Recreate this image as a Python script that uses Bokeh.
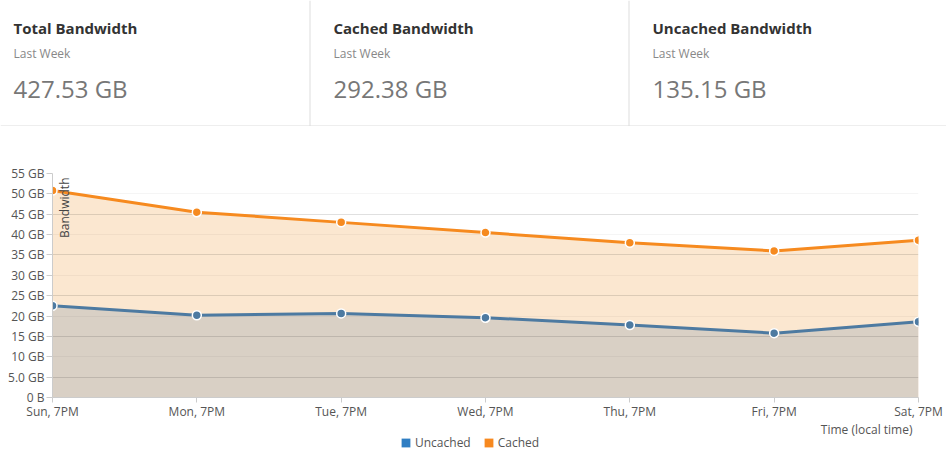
import math
from bokeh.plotting import figure
from bokeh.layouts import column
from bokeh.models import (Range1d, FixedTicker, Grid, Label, Legend, LegendItem,
                          ColumnDataSource)
from bokeh.core.properties import value
from bokeh.embed import file_html
from bokeh.resources import INLINE

# ---------------- data ----------------
days = ["Sun, 7PM", "Mon, 7PM", "Tue, 7PM", "Wed, 7PM", "Thu, 7PM", "Fri, 7PM", "Sat, 7PM"]
cached = [50.8, 45.5, 43.0, 40.5, 38.0, 36.0, 38.6]
uncached = [22.5, 20.2, 20.65, 19.6, 17.8, 15.8, 18.6]
y_ticks = [0, 5, 10, 15, 20, 25, 30, 35, 40, 45, 50, 55]
y_tick_labels = ["0 B", "5.0 GB", "10 GB", "15 GB", "20 GB", "25 GB", "30 GB",
                 "35 GB", "40 GB", "45 GB", "50 GB", "55 GB"]
card_titles = ["Total Bandwidth", "Cached Bandwidth", "Uncached Bandwidth"]
card_periods = ["Last Week", "Last Week", "Last Week"]
card_values = ["427.53 GB", "292.38 GB", "135.15 GB"]
series_names = ["Uncached", "Cached"]
series_legend_colors = ["#2f7ec3", "#f7891f"]

FONT = "Open Sans"
W = 946
HH = 126   # header height
CH = 296   # chart height
LH = 32    # legend strip height

# ---------------- header cards ----------------
hdr = figure(width=W, height=HH, x_range=Range1d(0, W), y_range=Range1d(HH, 0),
             output_backend="svg", toolbar_location=None, min_border=0,
             x_axis_location=None, y_axis_location=None)
hdr.frame_align = False
hdr.grid.visible = False
hdr.outline_line_color = None
card_x = [13, 333, 652]
hdr.text(x=card_x, y=[27] * 3, text=card_titles, text_font=value(FONT),
         text_font_style="bold", text_font_size="15px", text_color="#333333",
         text_baseline="middle")
hdr.text(x=card_x, y=[52.5] * 3, text=card_periods, text_font=value(FONT),
         text_font_size="12px", text_color="#888888", text_baseline="middle")
hdr.text(x=card_x, y=[88] * 3, text=card_values, text_font=value(FONT),
         text_font_size="24px", text_color="#777777", text_baseline="middle")
hdr.segment(x0=[309.5, 628.5], y0=[0, 0], x1=[309.5, 628.5], y1=[125.5, 125.5],
            line_color="#dddddd", line_width=1)
hdr.segment(x0=[0], y0=[125.5], x1=[W], y1=[125.5], line_color="#dddddd", line_width=1)

# ---------------- chart ----------------
xs = list(range(len(days)))
src = ColumnDataSource(dict(x=xs, cached=cached, uncached=uncached))

p = figure(width=W, height=CH, x_range=Range1d(xs[0], xs[-1]),
           y_range=Range1d(y_ticks[0], y_ticks[-1]),
           output_backend="svg", toolbar_location=None,
           min_border_left=52, min_border_right=28, min_border_top=47, min_border_bottom=25)
p.frame_align = False
p.outline_line_color = None
p.background_fill_color = "white"

p.varea(x="x", y1=0, y2="cached", source=src, fill_color="#fbe7d0", level="image")
p.varea(x="x", y1=0, y2="uncached", source=src, fill_color="#d9d0c5", level="image")

# grids
p.xgrid.visible = False
p.ygrid.ticker = FixedTicker(ticks=y_ticks[1::2])
p.ygrid.grid_line_color = "black"
p.ygrid.grid_line_alpha = 0.12
p.ygrid.level = "underlay"
g2 = Grid(dimension=1, ticker=FixedTicker(ticks=y_ticks[2::2]), grid_line_color="black",
          grid_line_alpha=0.04, level="underlay")
p.add_layout(g2)

# lines + markers
p.line(x="x", y="cached", source=src, line_color="#f68a1f", line_width=3)
p.line(x="x", y="uncached", source=src, line_color="#4d7aa1", line_width=3)
p.scatter(x="x", y="cached", source=src, size=9, fill_color="#f68a1f",
          line_color="white", line_width=1.5)
p.scatter(x="x", y="uncached", source=src, size=9, fill_color="#4d7aa1",
          line_color="white", line_width=1.5)

# axes
p.yaxis.ticker = FixedTicker(ticks=y_ticks)
p.yaxis.major_label_overrides = dict(zip(y_ticks, y_tick_labels))
p.xaxis.ticker = FixedTicker(ticks=xs)
p.xaxis.major_label_overrides = dict(zip(xs, days))
for ax in (p.xaxis, p.yaxis):
    ax.axis_line_color = "#cccccc"
    ax.major_tick_line_color = "#cccccc"
    ax.minor_tick_line_color = None
    ax.major_tick_in = 0
    ax.major_label_text_font = FONT
    ax.major_label_text_font_size = "12px"
    ax.major_label_text_color = "#555555"
p.yaxis.major_tick_out = 6
p.yaxis.major_label_standoff = 2
p.xaxis.major_tick_out = 5
p.xaxis.major_label_standoff = 0

p.add_layout(Label(x=xs[0], y=y_ticks[-1], x_offset=3, y_offset=-4, text="Bandwidth",
                   angle=math.pi / 2, text_align="right", text_baseline="top",
                   text_font=FONT, text_font_size="12px", text_color="#444444"))

# ---------------- legend strip (axis title + legend) ----------------
lg = figure(width=W, height=LH, x_range=Range1d(0, W), y_range=Range1d(LH, 0),
            output_backend="svg", toolbar_location=None, min_border=0,
            x_axis_location=None, y_axis_location=None)
lg.frame_align = False
lg.grid.visible = False
lg.outline_line_color = None
lg.text(x=[912], y=[7], text=["Time (local time)"], text_font=value(FONT),
        text_font_size="12px", text_color="#555555", text_align="right",
        text_baseline="middle")
nan = float("nan")
items = []
for name, col in zip(series_names, series_legend_colors):
    r = lg.quad(left=[nan], right=[nan], bottom=[nan], top=[nan], fill_color=col,
                line_color=None)
    items.append(LegendItem(label=name, renderers=[r]))
legend = Legend(items=items, location=(400, 3), orientation="horizontal",
                glyph_width=11, glyph_height=11, label_standoff=4, spacing=12,
                padding=0, margin=0, border_line_color=None, background_fill_alpha=0,
                label_height=14,
                label_text_font=FONT, label_text_font_size="12px",
                label_text_color="#555555")
lg.add_layout(legend)

layout = column(hdr, p, lg)
open("out.html", "w").write(file_html(layout, INLINE))
